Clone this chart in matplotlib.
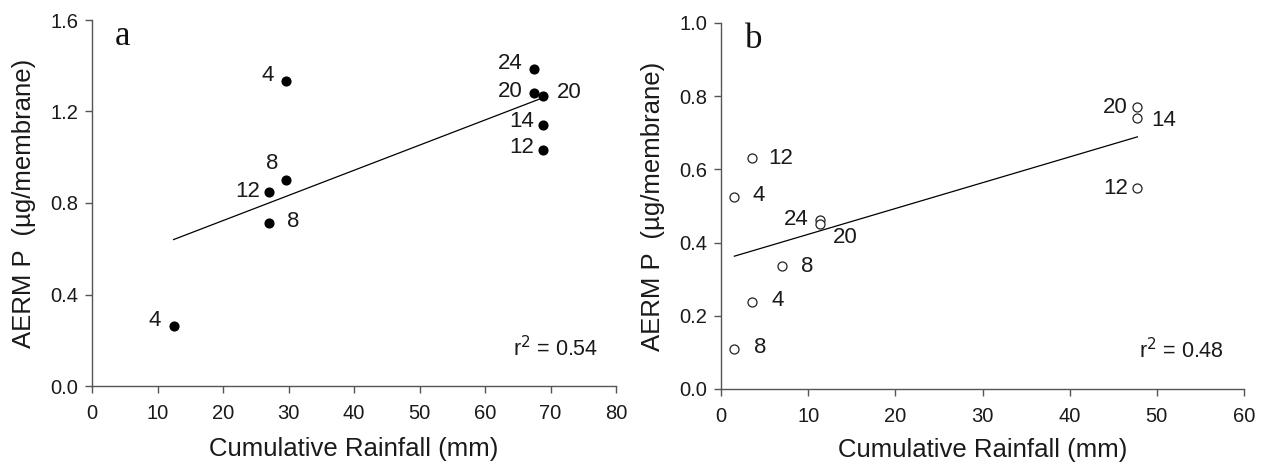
import numpy as np
import matplotlib
matplotlib.use("Agg")
import matplotlib.pyplot as plt

plt.rcParams['font.family'] = ['Liberation Sans', 'DejaVu Sans']

# Panel a data
a_x = [12.46, 29.6, 29.6, 27.0, 27.0, 67.5, 67.5, 68.8, 68.8, 68.8]
a_y = [0.261, 1.335, 0.902, 0.850, 0.712, 1.384, 1.281, 1.269, 1.143, 1.030]
a_lab = ["4", "4", "8", "12", "8", "24", "20", "20", "14", "12"]
a_r2 = "0.54"

# Panel b data
b_x = [3.52, 1.53, 11.35, 11.4, 6.95, 3.52, 1.53, 47.77, 47.77, 47.77]
b_y = [0.631, 0.525, 0.463, 0.451, 0.336, 0.237, 0.110, 0.770, 0.741, 0.548]
b_lab = ["12", "4", "24", "20", "8", "4", "8", "20", "14", "12"]
b_r2 = "0.48"

# label offsets (points) and alignment
a_off = [(-9, 4, 'right'), (-9, 4, 'right'), (-10, 12, 'center'), (-6, 0, 'right'),
         (13, 1, 'left'), (-8, 4, 'right'), (-8, 1, 'right'), (10, 2, 'left'),
         (-6, 2, 'right'), (-6, 2, 'right')]
b_off = [(12, 0, 'left'), (13, 1, 'left'), (-8, 0, 'right'), (9, -10, 'left'),
         (14, 0, 'left'), (14, 1, 'left'), (14, 1, 'left'), (-7, 0, 'right'),
         (10, -2, 'left'), (-7, 0, 'right')]

fig = plt.figure(figsize=(12.65, 4.72), dpi=100)
ax1 = fig.add_axes([92/1265, 1-386/472, (616-92)/1265, (386-20)/472])
ax2 = fig.add_axes([721/1265, 1-389/472, (1244-721)/1265, (389-23)/472])

def style(ax, xmax, ymax, ystep):
    for s in ['top', 'right']:
        ax.spines[s].set_visible(False)
    for s in ['left', 'bottom']:
        ax.spines[s].set_color('#555555')
        ax.spines[s].set_linewidth(1.0)
    ax.set_xlim(0, xmax)
    ax.set_ylim(0, ymax)
    ax.set_yticks(np.arange(0, ymax + 1e-9, ystep))
    ax.yaxis.set_major_formatter(matplotlib.ticker.FormatStrFormatter('%.1f'))
    ax.tick_params(direction='out', length=5, width=1, color='#555555',
                   labelsize=14.5, pad=5, labelcolor='#1a1a1a')
    ax.tick_params(axis='x', pad=8)
    ax.set_xlabel('Cumulative Rainfall (mm)', fontsize=18.5, color='#1a1a1a')
    ax.set_ylabel('AERM P  (\u00b5g/membrane)', fontsize=18.5, color='#1a1a1a')

def panel(ax, xs, ys, labs, offs, filled, r2, r2pos, letter, letpos):
    xs = np.array(xs); ys = np.array(ys)
    k, b = np.polyfit(xs, ys, 1)
    xl = np.array([xs.min(), xs.max()])
    ax.plot(xl, k * xl + b, color='black', lw=0.9, zorder=2)
    if filled:
        ax.plot(xs, ys, 'o', ms=6.3, mfc='black', mec='black', zorder=3, clip_on=False)
    else:
        ax.plot(xs, ys, 'o', ms=6.5, mfc='white', mec='#222222', mew=0.9, zorder=3, clip_on=False)
    for x, y, t, (dx, dy, ha) in zip(xs, ys, labs, offs):
        ax.annotate(t, (x, y), xytext=(dx, dy), textcoords='offset points',
                    ha=ha, va='center', fontsize=16, color='#1a1a1a')
    ax.text(r2pos[0], r2pos[1], 'r$^2$ = ' + r2, fontsize=15.5, color='#1a1a1a',
            ha='left', va='center')
    ax.text(letpos[0], letpos[1], letter, fontsize=25, family='Liberation Serif',
            ha='center', va='center', color='#111111')

style(ax1, 80, 1.6, 0.4)
style(ax2, 60, 1.0, 0.2)
ax1.set_xticks(np.arange(0, 81, 10))
ax2.set_xticks(np.arange(0, 61, 10))
ax1.yaxis.set_label_coords(-0.107, 0.5)
ax1.xaxis.set_label_coords(0.5, -0.139)
ax2.yaxis.set_label_coords(-0.107, 0.5)
ax2.xaxis.set_label_coords(0.5, -0.134)

panel(ax1, a_x, a_y, a_lab, a_off, True, a_r2, (64.3, 0.165), 'a', (4.6, 1.53))
panel(ax2, b_x, b_y, b_lab, b_off, False, b_r2, (48.0, 0.105), 'b', (3.7, 0.955))

fig.savefig('out.png', dpi=100)
